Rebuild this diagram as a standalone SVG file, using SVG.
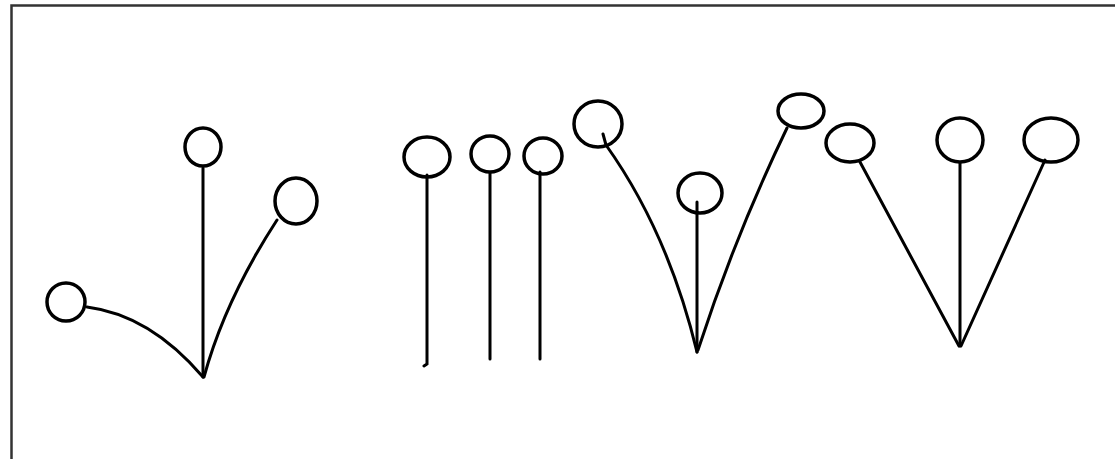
<svg xmlns="http://www.w3.org/2000/svg" width="1115" height="459" viewBox="0 0 1115 459">
<style>
.n{fill:none;stroke:#000;stroke-width:3.5}
.c{fill:none;stroke:#000;stroke-width:3;stroke-linecap:round}
.f{fill:none;stroke:#333;stroke-width:2.5}
</style>
<rect width="1115" height="459" fill="#fff"/>
<path class="f" d="M11.5,470 V5.5 H1125"/>
<g id="connectors">
<path class="c" d="M87,307 Q150,315 203,377"/>
<path class="c" d="M203,168 V377"/>
<path class="c" d="M277,220 Q225,300 204,377"/>
<path class="c" d="M427,175 V364 L424,366"/>
<path class="c" d="M490,173 V359"/>
<path class="c" d="M540,172 V359"/>
<path class="c" d="M603,134 L606,145 Q668,232 697,352"/>
<path class="c" d="M697,202 V352"/>
<path class="c" d="M787,128 Q735,236 698,350"/>
<path class="c" d="M860,162 L959,346"/>
<path class="c" d="M960,163 V346"/>
<path class="c" d="M1045,160 L961,346"/>
</g>
<g id="node-1"><ellipse class="n" cx="66" cy="302" rx="19" ry="19"/></g>
<g id="node-2"><ellipse class="n" cx="203" cy="147" rx="18" ry="19"/></g>
<g id="node-3"><ellipse class="n" cx="296" cy="201" rx="21" ry="23"/></g>
<g id="node-4"><ellipse class="n" cx="427" cy="157" rx="23" ry="20"/></g>
<g id="node-5"><ellipse class="n" cx="490" cy="154" rx="19" ry="18"/></g>
<g id="node-6"><ellipse class="n" cx="543" cy="156" rx="19" ry="18"/></g>
<g id="node-7"><ellipse class="n" cx="598" cy="124" rx="24" ry="23"/></g>
<g id="node-8"><ellipse class="n" cx="700" cy="193" rx="22" ry="20"/></g>
<g id="node-9"><ellipse class="n" cx="801" cy="111" rx="23" ry="17"/></g>
<g id="node-10"><ellipse class="n" cx="850" cy="143" rx="24" ry="19"/></g>
<g id="node-11"><ellipse class="n" cx="960" cy="140" rx="23" ry="22"/></g>
<g id="node-12"><ellipse class="n" cx="1051" cy="140" rx="27" ry="22"/></g>
</svg>
